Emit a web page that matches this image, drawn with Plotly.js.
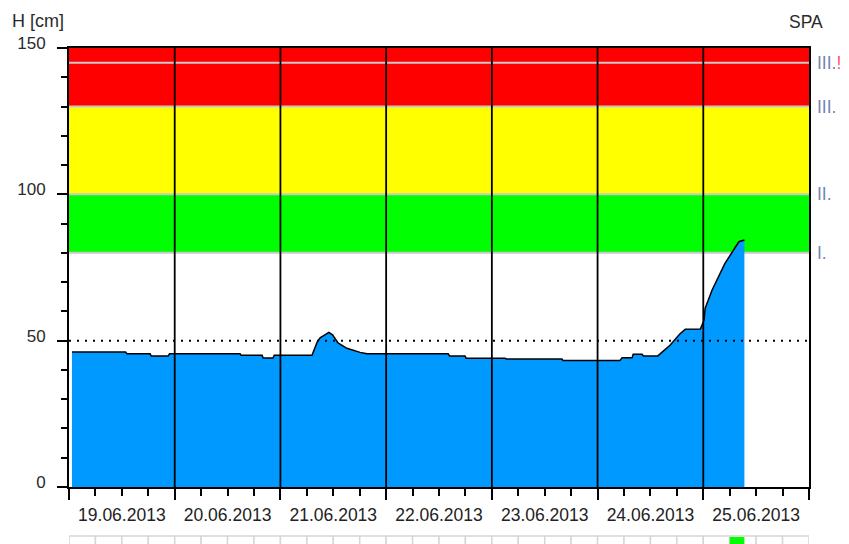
<!DOCTYPE html>
<html>
<head>
<meta charset="utf-8">
<script src="https://cdn.plot.ly/plotly-3.0.1.min.js"></script>
<style>html,body{margin:0;padding:0;background:#fff;}#chart{width:849px;height:544px;}</style>
</head>
<body>
<div id="chart"></div>
<script>
// Water level H [cm], station SPA
const times = [
  '2013-06-19 00:40','2013-06-19 12:50','2013-06-19 13:10','2013-06-19 18:25','2013-06-19 18:40',
  '2013-06-19 22:30','2013-06-19 22:50','2013-06-20 14:50','2013-06-20 15:05','2013-06-20 19:50',
  '2013-06-20 20:05','2013-06-20 22:20','2013-06-20 22:35','2013-06-21 07:10','2013-06-21 08:20',
  '2013-06-21 09:00','2013-06-21 11:00','2013-06-21 11:50','2013-06-21 13:05','2013-06-21 15:05',
  '2013-06-21 18:05','2013-06-21 19:40','2013-06-22 14:05','2013-06-22 14:25','2013-06-22 17:55',
  '2013-06-22 18:10','2013-06-23 03:00','2013-06-23 03:20','2013-06-23 15:55','2013-06-23 16:10',
  '2013-06-24 05:05','2013-06-24 05:35','2013-06-24 07:50','2013-06-24 08:05','2013-06-24 10:05',
  '2013-06-24 10:25','2013-06-24 13:40','2013-06-24 16:30','2013-06-24 18:40','2013-06-24 19:55',
  '2013-06-24 23:20','2013-06-25 00:10','2013-06-25 00:25','2013-06-25 02:00','2013-06-25 04:55',
  '2013-06-25 06:50','2013-06-25 08:05','2013-06-25 09:20'
];
const levels = [
  46.1, 46.1, 45.5, 45.5, 44.8,
  44.8, 45.5, 45.5, 45.0, 45.0,
  44.1, 44.1, 45.0, 45.0, 49.5,
  51.0, 52.8, 52.0, 49.2, 47.4,
  46.0, 45.5, 45.5, 44.8, 44.8,
  44.0, 44.0, 43.7, 43.7, 43.2,
  43.2, 44.2, 44.2, 45.4, 45.4,
  44.8, 44.8, 48.5, 52.3, 53.9,
  54.0, 57.0, 61.0, 67.3, 76.4,
  81.0, 83.8, 84.4
];

const xStart = '2013-06-19 00:00';
const xEnd = '2013-06-26 00:00';
const dayLines = ['2013-06-20','2013-06-21','2013-06-22','2013-06-23','2013-06-24','2013-06-25'];

const bandFrom = [80, 100, 130];
const bandTo = [100, 130, 150];
const bandColors = ['#00ff00', '#ffff00', '#ff0000'];
const markLevels = [80, 100, 130, 145];
const markLabels = ['I.', 'II.', 'III.', 'III.<span style="color:#ff4d6d">!</span>'];
const refLevel = 50;
const statusFrom = '2013-06-25 06:00';

const shapes = [];
for (let i = 0; i < bandFrom.length; i++) {
  shapes.push({type:'rect', xref:'paper', yref:'y', x0:0, x1:1, y0:bandFrom[i], y1:bandTo[i],
    fillcolor:bandColors[i], line:{width:0}, layer:'below'});
}
markLevels.forEach(v => shapes.push({type:'line', xref:'paper', yref:'y', x0:0, x1:1, y0:v, y1:v,
  line:{color:'#c8c8c8', width:2}, layer:'below'}));
shapes.push({type:'line', xref:'paper', yref:'y', x0:0, x1:1, y0:refLevel, y1:refLevel,
  line:{color:'#000', width:2, dash:'2px,6px'}, layer:'above'});
dayLines.forEach(d => shapes.push({type:'line', xref:'x', yref:'paper', x0:d, x1:d, y0:0, y1:1,
  line:{color:'#000', width:1.8}, layer:'above'}));

// status strip below the axis (6-hour cells)
const t0 = new Date(xStart.replace(' ', 'T') + 'Z').getTime();
const t1 = new Date(xEnd.replace(' ', 'T') + 'Z').getTime();
const fmt = t => new Date(t).toISOString().replace('T',' ').slice(0,16);
for (let t = t0; t < t1; t += 6*3600*1000) {
  shapes.push({type:'rect', xref:'x', yref:'paper', x0:fmt(t), x1:fmt(t + 6*3600*1000),
    y0:-0.15, y1:-0.1116, fillcolor:'#ffffff', line:{color:'#d6d6d6', width:1.5}, layer:'above'});
}
shapes.push({type:'rect', xref:'x', yref:'paper', x0:statusFrom, x1:times[times.length-1],
  y0:-0.15, y1:-0.1139, fillcolor:'#00ff00', line:{width:0}, layer:'above'});

const annotations = markLevels.map((v, i) => ({
  xref:'paper', yref:'y', x:1, y:v, xanchor:'left', yanchor:'middle', xshift:6,
  text:markLabels[i], showarrow:false, font:{size:17.5, color:'#7684b6'}
}));
annotations.push({xref:'paper', yref:'paper', x:0, y:1, xshift:-59, yshift:27, xanchor:'left', yanchor:'middle',
  text:'H [cm]', showarrow:false, font:{size:18, color:'#2a2a2a'}});
annotations.push({xref:'paper', yref:'paper', x:1, y:1, xshift:-3, yshift:26, xanchor:'center', yanchor:'middle',
  text:'SPA', showarrow:false, font:{size:17.5, color:'#2a2a2a'}});

const trace = {
  x: times, y: levels, type:'scatter', mode:'lines', fill:'tozeroy',
  fillcolor:'#0099ff', line:{color:'#000', width:1.5}, hoverinfo:'skip'
};

const layout = {
  width:849, height:544,
  margin:{l:69, r:40, t:48, b:57},
  paper_bgcolor:'#fff', plot_bgcolor:'#fff',
  font:{family:'Liberation Sans, Arial, sans-serif', size:17, color:'#2a2a2a'},
  showlegend:false,
  xaxis:{
    type:'date', range:[xStart, xEnd], showgrid:false, zeroline:false,
    showline:true, linecolor:'#000', linewidth:2, mirror:true,
    ticks:'outside', ticklen:11, tickwidth:2, tickcolor:'#000',
    tick0:xStart, dtick:86400000, ticklabelmode:'period', tickformat:'%d.%m.%Y',
    minor:{dtick:21600000, ticks:'outside', ticklen:7, tickwidth:2, tickcolor:'#000', showgrid:false},
    tickfont:{size:17.5, color:'#222'}
  },
  yaxis:{
    range:[0,150], showgrid:false, zeroline:false,
    showline:true, linecolor:'#000', linewidth:2, mirror:true,
    ticks:'outside', ticklen:10, tickwidth:2, tickcolor:'#000',
    tickvals:[0,50,100,150], ticklabelshift:-5, ticklabelstandoff:8,
    minor:{dtick:10, ticks:'outside', ticklen:6, tickwidth:2, tickcolor:'#000', showgrid:false},
    tickfont:{size:17, color:'#2a2a2a'}
  },
  shapes:shapes,
  annotations:annotations
};

Plotly.newPlot('chart', [trace], layout, {staticPlot:true, displayModeBar:false});
</script>
</body>
</html>
